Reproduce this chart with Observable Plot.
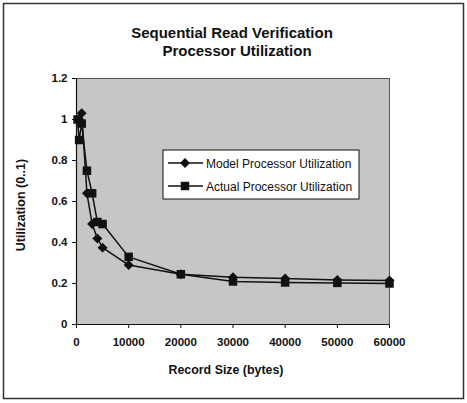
<!DOCTYPE html>
<html>
<head>
<meta charset="utf-8">
<script src="https://cdn.jsdelivr.net/npm/d3@7"></script>
<script src="https://cdn.jsdelivr.net/npm/@observablehq/plot@0.6"></script>
<style>
  html, body { margin: 0; padding: 0; background: #fff; }
  #chart svg { display: block; font-family: "Liberation Sans", Arial, sans-serif; }
</style>
</head>
<body>
<div id="chart"></div>
<script>
// Record sizes (bytes) and processor utilization for each series
const modelSize = [500, 1000, 2000, 3000, 4000, 5000, 10000, 20000, 30000, 40000, 50000, 60000];
const modelUtil = [1.0, 1.03, 0.64, 0.49, 0.42, 0.375, 0.29, 0.245, 0.23, 0.224, 0.217, 0.215];

const actualSize = [200, 500, 1000, 2000, 3000, 4000, 5000, 10000, 20000, 30000, 40000, 50000, 60000];
const actualUtil = [1.0, 0.9, 0.98, 0.75, 0.64, 0.5, 0.49, 0.33, 0.245, 0.21, 0.205, 0.203, 0.2];

const seriesNames = ["Model Processor Utilization", "Actual Processor Utilization"];
const titleLines = ["Sequential Read Verification", "Processor Utilization"];
const xTicks = [0, 10000, 20000, 30000, 40000, 50000, 60000];
const yTicks = [0, 0.2, 0.4, 0.6, 0.8, 1, 1.2];

const model = modelSize.map((x, i) => ({x, y: modelUtil[i]}));
const actual = actualSize.map((x, i) => ({x, y: actualUtil[i]}));

const W = 467, H = 403;
const chart = Plot.plot({
  width: W,
  height: H,
  marginLeft: 76,
  marginRight: 78,
  marginTop: 78,
  marginBottom: 79,
  style: {fontFamily: "Liberation Sans, Arial, sans-serif", fontSize: "11.5px", fontWeight: "bold", color: "#111"},
  x: {domain: [0, 60000], ticks: xTicks, tickFormat: d => String(d), tickSize: 4, tickPadding: 9, label: null},
  y: {domain: [0, 1.2], ticks: yTicks, tickFormat: d => String(d), tickSize: 4, tickPadding: 5, label: null},
  marks: [
    Plot.frame({fill: "#c6c6c6", stroke: "#555", strokeWidth: 1}),
    Plot.ruleX([0], {stroke: "#111", strokeWidth: 1.2}),
    Plot.ruleY([0], {stroke: "#111", strokeWidth: 1.2}),
    Plot.line(model, {x: "x", y: "y", stroke: "#111", strokeWidth: 1.5}),
    Plot.line(actual, {x: "x", y: "y", stroke: "#111", strokeWidth: 1.5}),
    Plot.dot(model, {x: "x", y: "y", symbol: "diamond2", r: 4.5, fill: "#111", stroke: "none"}),
    Plot.dot(actual, {x: "x", y: "y", symbol: "square", r: 4.8, fill: "#111", stroke: "none"})
  ]
});
document.getElementById("chart").appendChild(chart);

const svg = d3.select(chart);

// Outer border around the whole figure
svg.insert("rect", ":first-child")
  .attr("x", 3.5).attr("y", 3.5)
  .attr("width", W - 7).attr("height", H - 8)
  .attr("fill", "#fff").attr("stroke", "#333").attr("stroke-width", 1.5);

// Two-line title
svg.append("g")
  .attr("font-size", 15).attr("font-weight", "bold").attr("fill", "#111").attr("text-anchor", "middle")
  .selectAll("text").data(titleLines).join("text")
  .attr("x", (d, i) => i === 0 ? 232 : 237)
  .attr("y", (d, i) => 38 + i * 18)
  .text(d => d);

// Axis titles
svg.append("text")
  .attr("x", 226).attr("y", 374)
  .attr("text-anchor", "middle").attr("font-size", 12.4).attr("font-weight", "bold").attr("fill", "#111")
  .text("Record Size (bytes)");
svg.append("text")
  .attr("transform", "translate(25,205) rotate(-90)")
  .attr("text-anchor", "middle").attr("font-size", 12.5).attr("font-weight", "bold").attr("fill", "#111")
  .text("Utilization (0..1)");

// Legend box
const lg = svg.append("g").attr("transform", "translate(163,150)");
lg.append("rect").attr("width", 196).attr("height", 49)
  .attr("fill", "#fff").attr("stroke", "#111").attr("stroke-width", 1);
const syms = [d3.symbol(d3.symbolDiamond2, 64), d3.symbol(d3.symbolSquare, 72)];
seriesNames.forEach((name, i) => {
  const cy = 13 + i * 23;
  lg.append("line").attr("x1", 5).attr("x2", 40).attr("y1", cy).attr("y2", cy)
    .attr("stroke", "#111").attr("stroke-width", 1.5);
  lg.append("path").attr("d", syms[i]()).attr("transform", `translate(22,${cy})`).attr("fill", "#111");
  lg.append("text").attr("x", 43).attr("y", cy + 4.5)
    .attr("text-anchor", "start")
    .attr("font-size", 12).attr("fill", "#111").attr("font-weight", "normal")
    .text(name);
});
</script>
</body>
</html>
